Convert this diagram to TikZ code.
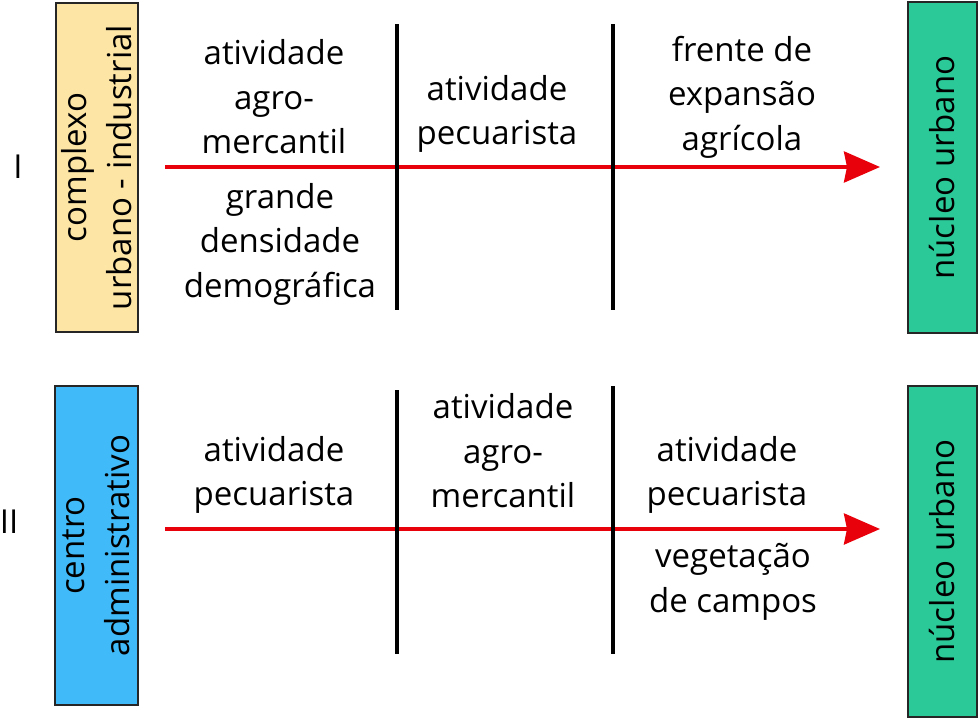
\documentclass[tikz,border=0pt]{standalone}
\usepackage{fontspec}
\setmainfont{Open Sans}
\usetikzlibrary{arrows.meta,positioning}
\definecolor{boxyellow}{RGB}{253,229,166}
\definecolor{boxblue}{RGB}{64,186,248}
\definecolor{boxgreen}{RGB}{44,201,152}
\definecolor{flowred}{RGB}{232,0,10}

\begin{document}
\begin{tikzpicture}[x=1pt,y=-1pt,>={Stealth[length=36pt,width=31pt,inset=3pt]},
                    node distance=44pt,font=\fontsize{33}{44.5}\selectfont]
  \tikzstyle{every node}=[align=center,inner sep=0pt]
  \tikzstyle{pole}=[draw=black!85,line width=2pt,rotate=90]
  \tikzstyle{flow}=[->,draw=flowred,line width=3.5pt]
  \tikzstyle{border}=[draw=black,line width=3.5pt]

  \useasboundingbox (0,0) rectangle (980,720);

  % row I
  \node (ONE)  at (18,167)  {I};
  \node[pole,fill=boxyellow,minimum width=329pt,minimum height=82pt]
        (COMPLEXO) at (96.5,167.5) {complexo\\urbano - industrial};
  \node[pole,fill=boxgreen,minimum width=331pt,minimum height=69pt]
        (NUCLEO1)  at (942.5,167.5) {núcleo urbano};
  \coordinate (S1) at (165,167);
  \coordinate (E1) at (880,167);
  \coordinate (A1T) at (397,24);  \coordinate (A1B) at (397,310);
  \coordinate (B1T) at (613,24);  \coordinate (B1B) at (613,310);
  \draw[flow] (S1) -- (E1);
  \draw[border] (A1T) -- (A1B);
  \draw[border] (B1T) -- (B1B);
  \node (AGRO1)  at (274,97)  {atividade\\agro-\\mercantil};
  \node (DENS)   at (280,244) {grande\\densidade\\demográfica};
  \node (PECU1)  at (497,114) {atividade\\pecuarista};
  \node (FRENTE) at (742,97)  {frente de\\expansão\\agrícola};

  % row II
  \node (TWO)  at (9,522)   {II};
  \node[pole,fill=boxblue,minimum width=319pt,minimum height=83pt]
        (CENTRO) at (96.5,545.5) {centro\\administrativo};
  \node[pole,fill=boxgreen,minimum width=331pt,minimum height=69pt]
        (NUCLEO2) at (942.5,551.5) {núcleo urbano};
  \coordinate (S2) at (165,529);
  \coordinate (E2) at (880,529);
  \coordinate (A2T) at (397,390); \coordinate (A2B) at (397,654);
  \coordinate (B2T) at (613,386); \coordinate (B2B) at (613,654);
  \draw[flow] (S2) -- (E2);
  \draw[border] (A2T) -- (A2B);
  \draw[border] (B2T) -- (B2B);
  \node (PECU2)  at (274,475) {atividade\\pecuarista};
  \node (AGRO2)  at (503,451) {atividade\\agro-\\mercantil};
  \node (PECU3)  at (727,475) {atividade\\pecuarista};
  \node (VEGET)  at (733,582) {vegetação\\de campos};
\end{tikzpicture}
\end{document}
